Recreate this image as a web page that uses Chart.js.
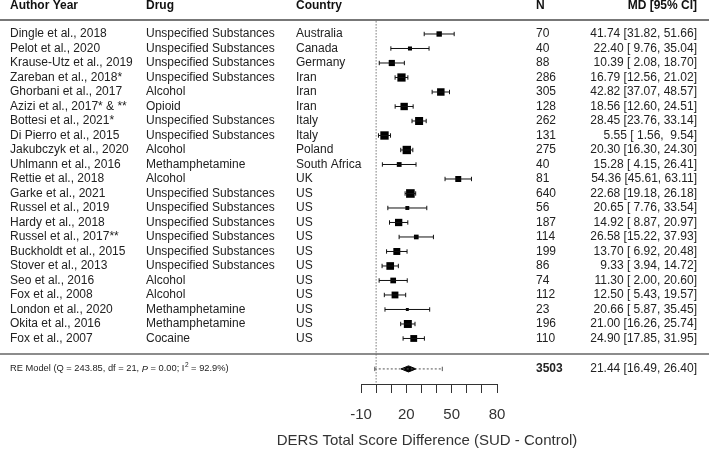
<!DOCTYPE html>
<html>
<head>
<meta charset="utf-8">
<script src="https://cdn.jsdelivr.net/npm/chart.js@4/dist/chart.umd.min.js"></script>
<style>
html,body{margin:0;padding:0;background:#fff;}
#wrap{width:709px;height:450px;position:relative;}
</style>
</head>
<body>
<div id="wrap"><canvas id="c" width="709" height="450"></canvas></div>
<script>
// ---- data ----
const authors = ["Dingle et al., 2018","Pelot et al., 2020","Krause-Utz et al., 2019","Zareban et al., 2018*","Ghorbani et al., 2017","Azizi et al., 2017* & **","Bottesi et al., 2021*","Di Pierro et al., 2015","Jakubczyk et al., 2020","Uhlmann et al., 2016","Rettie et al., 2018","Garke et al., 2021","Russel et al., 2019","Hardy et al., 2018","Russel et al., 2017**","Buckholdt et al., 2015","Stover et al., 2013","Seo et al., 2016","Fox et al., 2008","London et al., 2020","Okita et al., 2016","Fox et al., 2007"];
const drugs = ["Unspecified Substances","Unspecified Substances","Unspecified Substances","Unspecified Substances","Alcohol","Opioid","Unspecified Substances","Unspecified Substances","Alcohol","Methamphetamine","Alcohol","Unspecified Substances","Unspecified Substances","Unspecified Substances","Unspecified Substances","Unspecified Substances","Unspecified Substances","Alcohol","Alcohol","Methamphetamine","Methamphetamine","Cocaine"];
const countries = ["Australia","Canada","Germany","Iran","Iran","Iran","Italy","Italy","Poland","South Africa","UK","US","US","US","US","US","US","US","US","US","US","US"];
const nValues = [70,40,88,286,305,128,262,131,275,40,81,640,56,187,114,199,86,74,112,23,196,110];
const md = [41.74,22.40,10.39,16.79,42.82,18.56,28.45,5.55,20.30,15.28,54.36,22.68,20.65,14.92,26.58,13.70,9.33,11.30,12.50,20.66,21.00,24.90];
const ciLow = [31.82,9.76,2.08,12.56,37.07,12.60,23.76,1.56,16.30,4.15,45.61,19.18,7.76,8.87,15.22,6.92,3.94,2.00,5.43,5.87,16.26,17.85];
const ciHigh = [51.66,35.04,18.70,21.02,48.57,24.51,33.14,9.54,24.30,26.41,63.11,26.18,33.54,20.97,37.93,20.48,14.72,20.60,19.57,35.45,25.74,31.95];
const totalN = 3503;
const reEst = 21.44, reLow = 16.49, reHigh = 26.40;
const piLow = -0.9, piHigh = 43.8;
const reStats = {Q: "243.85", df: "21", P: "0.00", I2: "92.9%"};
const xMin = -10, xMax = 80, xStep = 10;
const xLabeled = [-10, 20, 50, 80];
const headers = ["Author Year","Drug","Country","N","MD [95% CI]"];
const xTitle = "DERS Total Score Difference (SUD - Control)";

// ---- layout rows (in row units) ----
const nRows = authors.length;
const rowHeader = -1.96, rowHeaderLine = -0.97, rowBottomLine = 22.07, rowRE = 23.1;
const yMin = -2.345, yMax = 24.14;

const FONT = "'Liberation Sans', Arial, sans-serif";
const fmt = v => v.toFixed(2);
const pad5 = s => s.padStart(5, " ");
const ciText = (m, l, h) => pad5(fmt(m)) + " [" + pad5(fmt(l)) + ", " + pad5(fmt(h)) + "]";

// marker side derived from CI width (precision)
function sideFor(i){
  const hw = (ciHigh[i] - ciLow[i]) / 2;
  return Math.max(2.2, 8.6 - 0.5 * (hw - 3.5));
}

// whiskers (segments broken by null)
const whisk = [];
for (let i = 0; i < nRows; i++) {
  whisk.push({x: ciLow[i], y: i});
  whisk.push({x: ciHigh[i], y: i});
  whisk.push({x: md[i], y: null});
}
const squares = md.map((v, i) => ({x: v, y: i}));
const dh = 0.21;
const diamond = [
  {x: reLow, y: rowRE}, {x: reEst, y: rowRE - dh}, {x: reHigh, y: rowRE},
  {x: reEst, y: rowRE + dh}, {x: reLow, y: rowRE}
];
const piLine = [{x: piLow, y: rowRE}, {x: piHigh, y: rowRE}];
const zeroLine = [{x: 0, y: rowHeaderLine + 0.1}, {x: 0, y: yMax}];

const tablePlugin = {
  id: 'table',
  afterDraw(chart) {
    const ctx = chart.ctx, ys = chart.scales.y, ca = chart.chartArea;
    const W = chart.width;
    ctx.save();
    // rules
    ctx.strokeStyle = '#777';
    ctx.lineWidth = 2;
    let y = Math.round(ys.getPixelForValue(rowHeaderLine)) ;
    ctx.beginPath(); ctx.moveTo(0, y); ctx.lineTo(W, y); ctx.stroke();
    ctx.strokeStyle = '#666';
    ctx.lineWidth = 1.6;
    y = Math.round(ys.getPixelForValue(rowBottomLine));
    ctx.beginPath(); ctx.moveTo(0, y); ctx.lineTo(W, y); ctx.stroke();

    const colA = 10, colD = 146, colC = 296, colN = 536, colM = 697;
    ctx.textBaseline = 'middle';
    // headers
    ctx.fillStyle = '#111';
    ctx.font = "bold 12px " + FONT;
    const hy = ys.getPixelForValue(rowHeader);
    ctx.textAlign = 'left';
    ctx.fillText(headers[0], colA, hy);
    ctx.fillText(headers[1], colD, hy);
    ctx.fillText(headers[2], colC, hy);
    ctx.fillText(headers[3], colN, hy);
    ctx.textAlign = 'right';
    ctx.fillText(headers[4], colM, hy);
    // rows
    ctx.fillStyle = '#222';
    ctx.font = "12px " + FONT;
    for (let i = 0; i < nRows; i++) {
      const ry = ys.getPixelForValue(i);
      ctx.textAlign = 'left';
      ctx.fillText(authors[i], colA, ry);
      ctx.fillText(drugs[i], colD, ry);
      ctx.fillText(countries[i], colC, ry);
      ctx.fillText(String(nValues[i]), colN, ry);
      ctx.textAlign = 'right';
      ctx.fillText(ciText(md[i], ciLow[i], ciHigh[i]), colM, ry);
    }
    // RE model row
    const ry = ys.getPixelForValue(rowRE);
    ctx.textAlign = 'left';
    ctx.font = "bold 12px " + FONT;
    ctx.fillText(String(totalN), colN, ry);
    ctx.font = "12px " + FONT;
    ctx.textAlign = 'right';
    ctx.fillText(ciText(reEst, reLow, reHigh), colM, ry);
    // RE label with italic P and superscript 2
    ctx.textAlign = 'left';
    const fs = 9.3;
    const parts = [
      ["RE Model (Q = " + reStats.Q + ", df = " + reStats.df + ", ", "normal", 0],
      ["P", "italic", 0],
      [" = " + reStats.P + "; I", "normal", 0],
      ["2", "normal", -1],
      [" = " + reStats.I2 + ")", "normal", 0]
    ];
    let x = colA;
    for (const [t, st, sup] of parts) {
      if (sup) {
        ctx.font = (fs * 0.7) + "px " + FONT;
        ctx.fillText(t, x + 0.5, ry - 4);
        x += ctx.measureText(t).width + 0.5;
      } else {
        ctx.font = (st === 'italic' ? 'italic ' : '') + fs + "px " + FONT;
        ctx.fillText(t, x, ry);
        x += ctx.measureText(t).width;
      }
    }
    // x-axis title (centred under the axis)
    ctx.fillStyle = '#333';
    ctx.font = "15px " + FONT;
    ctx.textAlign = 'center';
    ctx.fillText(xTitle, (ca.left + ca.right) / 2 - 2, 441);
    ctx.restore();
  }
};

new Chart(document.getElementById('c'), {
  type: 'scatter',
  data: {
    datasets: [
      { data: zeroLine, showLine: true, borderColor: '#333', borderWidth: 1, borderDash: [1, 2],
        pointRadius: 0, fill: false },
      { data: whisk, showLine: true, borderColor: '#111', borderWidth: 1, spanGaps: false,
        pointStyle: 'line', rotation: 90, pointRadius: 2.2, pointBorderWidth: 1,
        pointBorderColor: '#111', pointBackgroundColor: '#111' },
      { data: squares, pointStyle: 'rect', backgroundColor: '#000', borderColor: '#000',
        pointBorderWidth: 0,
        pointRadius: (c) => sideFor(c.dataIndex) / Math.SQRT2 },
      { data: piLine, showLine: true, borderColor: '#555', borderWidth: 1, borderDash: [2, 2],
        pointStyle: 'line', rotation: 90, pointRadius: 2.2, pointBorderWidth: 1,
        pointBorderColor: '#555' },
      { data: diamond, showLine: true, borderColor: '#000', borderWidth: 1, backgroundColor: '#000',
        fill: 'shape', pointRadius: 0, tension: 0 }
    ]
  },
  options: {
    responsive: false,
    animation: false,
    events: [],
    layout: { autoPadding: false, padding: { left: 361, right: 212, top: 0, bottom: 0 } },
    plugins: { legend: { display: false }, tooltip: { enabled: false } },
    scales: {
      x: {
        type: 'linear', min: xMin, max: xMax, position: 'bottom',
        afterFit: (s) => { s.height = 66; },
        border: { display: true, color: '#333', width: 1 },
        grid: { display: true, drawOnChartArea: false, drawTicks: true, tickLength: 9, color: '#333', lineWidth: 1 },
        ticks: {
          stepSize: xStep, autoSkip: false, maxRotation: 0, padding: 13,
          color: '#333', font: { family: FONT, size: 15 },
          callback: (v) => xLabeled.includes(v) ? String(v) : ''
        },
        title: { display: false }
      },
      y: { type: 'linear', min: yMin, max: yMax, reverse: true, display: false }
    }
  },
  plugins: [tablePlugin]
});
</script>
</body>
</html>
